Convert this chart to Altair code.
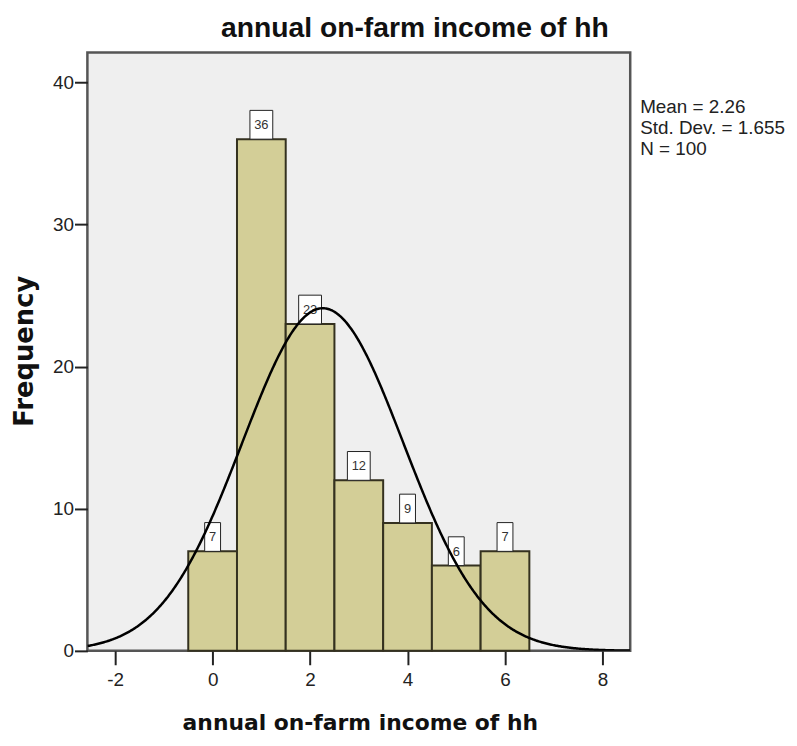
import altair as alt
import pandas as pd

# ---- data ----
bin_centers = [0, 1, 2, 3, 4, 5, 6]
counts = [7, 36, 23, 12, 9, 6, 7]
x_ticks = [-2, 0, 2, 4, 6, 8]
y_ticks = [0, 10, 20, 30, 40]
mean_val = 2.26
sd_val = 1.655
n_val = 100
stats_lines = ["Mean = 2.26", "Std. Dev. = 1.655", "N = 100"]
title_text = "annual on-farm income of hh"
x_title = "annual on-farm income of hh"
y_title = "Frequency"

df = pd.DataFrame({"center": bin_centers, "count": counts})
df["start"] = df["center"] - 0.5
df["end"] = df["center"] + 0.5
df["zero"] = 0
df["label"] = df["count"].astype(str)

W, H = 547, 603
xscale = alt.Scale(domain=[-2.57, 8.57], nice=False, zero=False)
yscale = alt.Scale(domain=[0, 42.1], nice=False)

FONT = "Liberation Sans"
xaxis = alt.Axis(values=x_ticks, title=None, grid=False, domain=False,
                 tickSize=14, tickWidth=2, tickColor="#222",
                 labelFont=FONT, labelFontSize=19, labelColor="#222",
                 labelPadding=6, labelExpr="'' + datum.value")
yaxis = alt.Axis(values=y_ticks, title=None, grid=False, domain=False,
                 tickSize=13, tickWidth=2, tickColor="#222",
                 labelFont=FONT, labelFontSize=19, labelColor="#222",
                 labelPadding=1)

base = alt.Chart(df)

bars = base.mark_rect(fill="#d3ce97", stroke="#34311f", strokeWidth=2).encode(
    x=alt.X("start:Q", scale=xscale, axis=xaxis),
    x2="end:Q",
    y=alt.Y("count:Q", scale=yscale, axis=yaxis),
    y2="zero:Q",
)

box1 = base.transform_filter("datum.count < 10").mark_rect(
    fill="white", stroke="#222", strokeWidth=1,
    xOffset=-8, x2Offset=8, yOffset=-29, y2Offset=0
).encode(
    x=alt.X("center:Q", scale=xscale), x2="center:Q",
    y=alt.Y("count:Q", scale=yscale), y2="count:Q",
)
box2 = base.transform_filter("datum.count >= 10").mark_rect(
    fill="white", stroke="#222", strokeWidth=1,
    xOffset=-11.5, x2Offset=11.5, yOffset=-29, y2Offset=0
).encode(
    x=alt.X("center:Q", scale=xscale), x2="center:Q",
    y=alt.Y("count:Q", scale=yscale), y2="count:Q",
)
labels = base.mark_text(font=FONT, fontSize=13, color="#333",
                        baseline="middle", align="center", dy=-14).encode(
    x=alt.X("center:Q", scale=xscale),
    y=alt.Y("count:Q", scale=yscale),
    text="label:N",
)

curve = alt.Chart(alt.sequence(-2.57, 8.575, 0.02, as_="x")).transform_calculate(
    y=f"{n_val} * exp(-0.5*pow((datum.x-{mean_val})/{sd_val},2)) / ({sd_val}*sqrt(2*PI))"
).mark_line(color="black", strokeWidth=2.5, clip=True).encode(
    x=alt.X("x:Q", scale=xscale),
    y=alt.Y("y:Q", scale=yscale),
)


def txt(text, x, y, **kw):
    return alt.Chart(pd.DataFrame({"t": [text]})).mark_text(**kw).encode(
        x=alt.value(x), y=alt.value(y), text="t:N")


title = txt(title_text, 330, -16, font=FONT, fontSize=28.5, fontWeight="bold",
            color="#111", align="center", baseline="alphabetic")
xt = txt(x_title, 275, 683, font="DejaVu Sans", fontSize=22, fontWeight="bold",
         color="#111", align="center", baseline="alphabetic")
yt = txt(y_title, -63, 301, font="DejaVu Sans", fontSize=26, fontWeight="bold",
         color="#111", align="center", baseline="middle", angle=270)
stats = txt("\n".join(stats_lines), 557, 61, font=FONT, fontSize=19,
            color="#222", align="left", baseline="alphabetic",
            lineBreak="\n", lineHeight=21)

chart = alt.layer(bars, box1, box2, labels, curve, title, xt, yt, stats).properties(
    width=W, height=H,
    autosize="none",
    padding={"left": 80, "top": 42, "right": 160, "bottom": 84},
    background="white",
).configure_view(fill="#efefef", stroke="#555", strokeWidth=2.5)

chart.save("out.html", embed_options={"renderer": "svg", "actions": False})
